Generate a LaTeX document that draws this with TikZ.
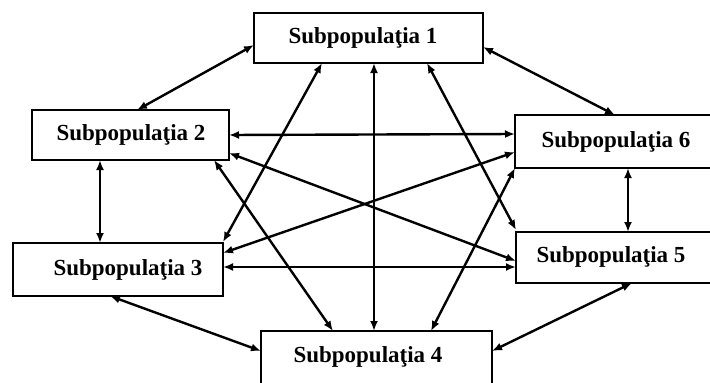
\documentclass[tikz,border=0pt]{standalone}
\usepackage{fontspec}
\setmainfont{Liberation Serif}
\usetikzlibrary{arrows.meta,calc}
\begin{document}
\begin{tikzpicture}[x=1pt,y=-1pt,
  box/.style={draw=black,line width=2.2pt,rectangle,inner sep=0pt,outer sep=0pt,fill=white},
  lbl/.style={font=\fontsize{23}{27}\selectfont\bfseries,inner sep=0pt},
  conn/.style={line width=2.4pt,{Latex[length=10pt,width=8pt]}-{Latex[length=10pt,width=8pt]}}]
\useasboundingbox (0,0) rectangle (710,383);
\clip (0,0) rectangle (710,383);
\fill[white] (0,0) rectangle (710,383);
% boxes
\node[box,minimum width=229pt,minimum height=50pt] (b1) at (368.5,38) {};
\node[box,minimum width=197pt,minimum height=50pt] (b2) at (130.5,135) {};
\node[box,minimum width=210pt,minimum height=53pt] (b3) at (118,269.5) {};
\node[box,minimum width=231pt,minimum height=69pt] (b4) at (376.5,365.5) {};
\node[box,minimum width=214pt,minimum height=51pt] (b5) at (623,257.5) {};
\node[box,minimum width=215pt,minimum height=53pt] (b6) at (622.5,141.5) {};
% labels
\node[lbl] (t1) at (363,38) {Subpopulaţia 1};
\node[lbl] (t2) at (131,135) {Subpopulaţia 2};
\node[lbl] (t3) at (128,270) {Subpopulaţia 3};
\node[lbl] (t4) at (368,357) {Subpopulaţia 4};
\node[lbl] (t5) at (611,257) {Subpopulaţia 5};
\node[lbl] (t6) at (616,142) {Subpopulaţia 6};
% connectors
\draw[conn] ($(b1.north west)+(0,32)$) -- ($(b2.north west)+(105,0)$);
\draw[conn] ($(b1.north east)+(0,34)$) -- ($(b6.north west)+(100,0)$);
\draw[conn] ($(b1.south west)+(68,0)$) -- ($(b3.north east)+(0,-1)$);
\draw[conn] ($(b1.south west)+(120,0)$) -- ($(b4.north west)+(113,0)$);
\draw[conn] ($(b1.south west)+(173,0)$) -- ($(b5.north west)+(0,-2)$);
\draw[conn] ($(b2.south west)+(68,0)$) -- ($(b3.north west)+(87,0)$);
\draw[conn] ($(b2.north east)+(0,25)$) -- ($(b6.north west)+(0,19)$);
\draw[conn] ($(b2.north east)+(0,43)$) -- ($(b5.north west)+(0,29)$);
\draw[conn] ($(b2.south east)+(-15,0)$) -- ($(b4.north west)+(72,0)$);
\draw[conn] ($(b3.north east)+(0,10)$) -- ($(b6.north west)+(0,37)$);
\draw[conn] ($(b3.north east)+(0,24)$) -- ($(b5.north west)+(0,35)$);
\draw[conn] ($(b3.south west)+(97,0)$) -- ($(b4.north west)+(0,20)$);
\draw[conn] ($(b4.north west)+(170,0)$) -- (b6.south west);
\draw[conn] ($(b4.north east)+(0,20)$) -- ($(b5.south west)+(116,0)$);
\draw[conn] ($(b6.south west)+(113,0)$) -- ($(b5.north west)+(112,0)$);
\end{tikzpicture}
\end{document}
